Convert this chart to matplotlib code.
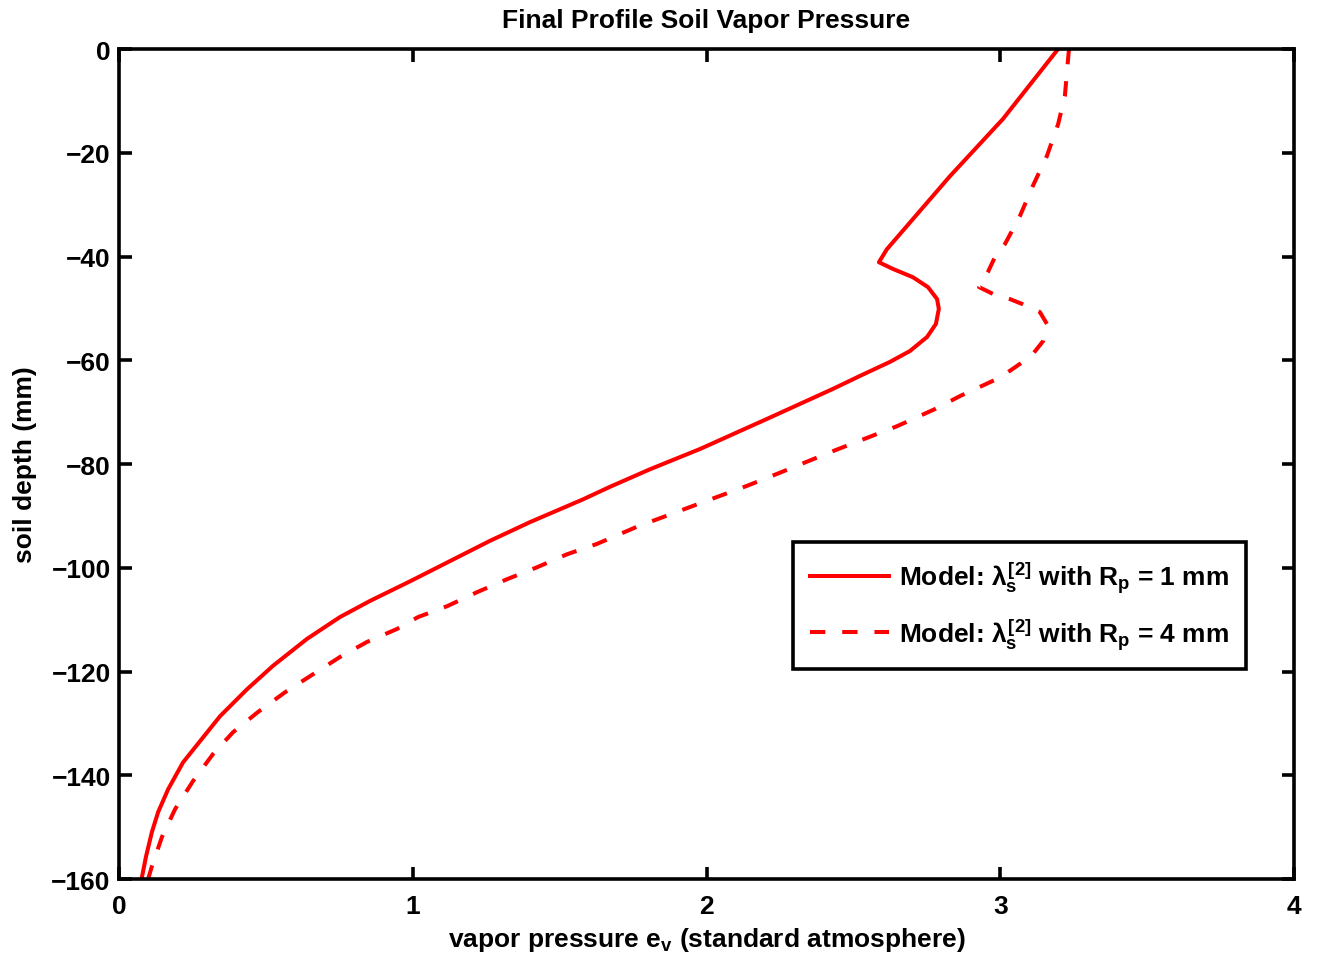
import numpy as np
import matplotlib
matplotlib.use("Agg")
import matplotlib.pyplot as plt

# === data ===

# Rp = 1 mm (solid)
ev_rp1 = [3.197, 3.009, 2.829, 2.614, 2.587, 2.635, 2.703, 2.754,
          2.785, 2.791, 2.781, 2.751, 2.693, 2.625, 2.523, 2.431, 2.206, 1.978,
          1.808, 1.671, 1.580, 1.399, 1.263, 1.127, 0.991, 0.854, 0.752,
          0.640, 0.524, 0.436, 0.344, 0.218, 0.167, 0.133, 0.112,
          0.092, 0.078, 0.076]
z_rp1 = [0.0, -13.5, -24.5, -38.6, -41.1, -42.4, -44.0, -45.9,
         -48.2, -50.1, -53.0, -55.5, -58.2, -60.3, -63.0, -65.5, -71.3, -77.1,
         -81.0, -84.4, -86.8, -91.2, -94.8, -98.7, -102.6, -106.4, -109.5,
         -113.7, -118.9, -123.4, -128.6, -137.5, -142.7, -147.1, -150.9,
         -155.6, -159.6, -160.0]

# Rp = 4 mm (dashed)
ev_rp4 = [3.234, 3.220, 3.197, 3.159, 3.111, 3.067, 3.016, 2.982, 2.958, 2.928,
          2.975, 3.033, 3.077, 3.135, 3.159, 3.146, 3.111, 3.067, 3.026, 2.989,
          2.863, 2.778, 2.649, 2.431, 2.240, 2.138, 1.763, 1.627, 1.525, 1.423,
          1.321, 1.219, 1.117, 1.018, 0.946, 0.844, 0.752, 0.650, 0.565, 0.473,
          0.388, 0.320, 0.252, 0.191, 0.146, 0.112, 0.099]
z_rp4 = [0.0, -9.1, -14.5, -20.6, -26.4, -32.2, -37.6, -40.1, -43.0, -45.9,
         -47.2, -48.2, -49.2, -50.7, -53.0, -56.3, -58.8, -60.7, -62.3, -63.6,
         -66.9, -69.4, -72.7, -77.5, -81.9, -84.2, -92.1, -95.4, -97.4, -99.9,
         -102.2, -104.7, -107.4, -109.5, -111.8, -114.3, -117.2, -120.9, -124.0, -127.8,
         -131.7, -135.9, -141.1, -146.5, -151.9, -157.5, -160.0]

xticks = [0, 1, 2, 3, 4]
yticks = [0, -20, -40, -60, -80, -100, -120, -140, -160]

# === style ===
plt.rcParams['font.family'] = ['Liberation Sans', 'DejaVu Sans']
plt.rcParams['font.weight'] = 'bold'
plt.rcParams['font.size'] = 19
plt.rcParams['mathtext.fontset'] = 'custom'
plt.rcParams['mathtext.rm'] = 'Liberation Sans:bold'
plt.rcParams['mathtext.bf'] = 'Liberation Sans:bold'
plt.rcParams['mathtext.it'] = 'Liberation Sans'

fig = plt.figure(figsize=(13.17, 9.62), dpi=100)
ax = fig.add_axes([0.0904, 0.0852, 0.8921, 0.8628])

ax.plot(ev_rp1, z_rp1, color='red', lw=2.9, ls='-',
        label=r'Model: $\lambda_\mathbf{s}^\mathbf{[2]}$ with R$_\mathbf{p}$ = 1 mm')
ax.plot(ev_rp4, z_rp4, color='red', lw=2.9, ls=(0, (3.8, 4.2)),
        label=r'Model: $\lambda_\mathbf{s}^\mathbf{[2]}$ with R$_\mathbf{p}$ = 4 mm')

ax.set_xlim(0, 4)
ax.set_ylim(-160, 0)
ax.set_xticks(xticks)
ax.set_yticks(yticks)

for s in ax.spines.values():
    s.set_linewidth(2.6)
ax.tick_params(direction='in', length=9, width=2.6, top=True, right=True,
               labelsize=19, pad=6)
ax.tick_params(axis='x', pad=11)

ax.set_title('Final Profile Soil Vapor Pressure', fontsize=19, fontweight='bold', pad=16)
ax.set_xlabel(r'vapor pressure e$_\mathbf{v}$ (standard atmosphere)', fontsize=19,
              fontweight='bold', labelpad=5)
ax.set_ylabel('soil depth (mm)', fontsize=19, fontweight='bold', labelpad=10)

leg = ax.legend(loc='upper left', bbox_to_anchor=(0.5736, 0.406),
                borderaxespad=0, fancybox=False, framealpha=1,
                edgecolor='black', fontsize=19, handlelength=3.0,
                labelspacing=0.8, borderpad=0.65, handletextpad=0.35)
leg.get_frame().set_linewidth(2.6)

fig.savefig('out.png', dpi=100)
